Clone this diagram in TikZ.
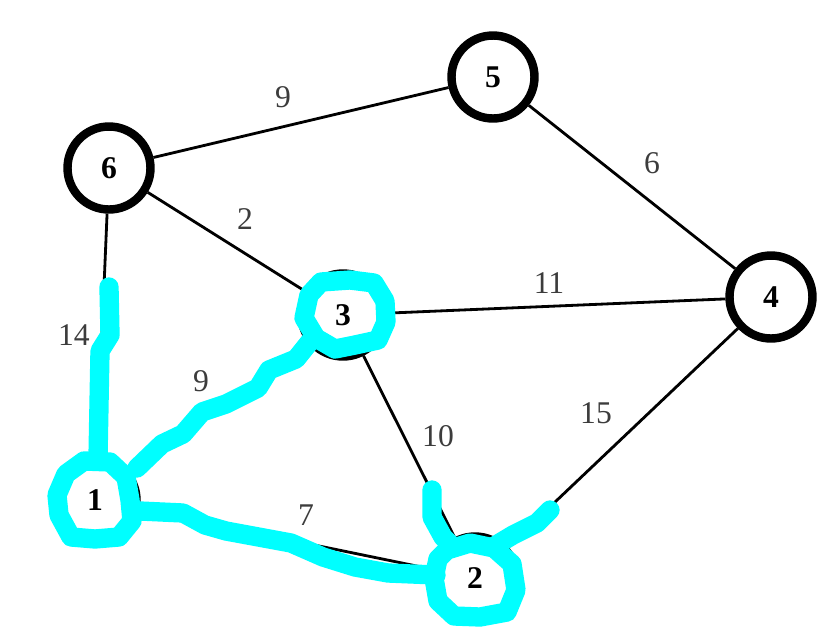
\documentclass[tikz,border=0pt]{standalone}
\usepackage{fontspec}
\setmainfont{Liberation Serif}
\definecolor{hilite}{RGB}{0,255,255}
\definecolor{wlabel}{RGB}{60,60,60}
\tikzset{
  vertex/.style={circle, draw=black, line width=4.8pt, minimum size=1.66cm, inner sep=0pt,
    font=\fontsize{18}{18}\selectfont\bfseries},
  edge/.style={line width=1.6pt},
  weight/.style={text=wlabel, font=\fontsize{18}{18}\selectfont},
  marker/.style={hilite, line width=11pt, line cap=round, line join=round},
}

\begin{document}
\begin{tikzpicture}[x=0.02cm, y=-0.02cm]
        \useasboundingbox (0,0) rectangle (840,630);

        % Coordinates
        \coordinate (P1) at (95,500);
        \coordinate (P2) at (475,578);
        \coordinate (P3) at (343,315);
        \coordinate (P4) at (771,297);
        \coordinate (P5) at (493,77);
        \coordinate (P6) at (109,168);

        % Nodes
        \node[vertex] (v1) at (P1) {1};
        \node[vertex] (v2) at (P2) {2};
        \node[vertex] (v3) at (P3) {3};
        \node[vertex] (v4) at (P4) {4};
        \node[vertex] (v5) at (P5) {5};
        \node[vertex] (v6) at (P6) {6};

        % Edges
        \draw[edge] (v6) -- (v5);
        \draw[edge] (v5) -- (v4);
        \draw[edge] (v6) -- (v3);
        \draw[edge] (v3) -- (v4);
        \draw[edge] (v6) -- (v1);
        \draw[edge] (v1) -- (v3);
        \draw[edge] (v3) -- (v2);
        \draw[edge] (v1) -- (v2);
        \draw[edge] (v4) -- (v2);

        % Weights
        \node[weight] (w65) at (283,97) {9};
        \node[weight] (w54) at (652,163) {6};
        \node[weight] (w63) at (245,219) {2};
        \node[weight] (w34) at (549,283) {11};
        \node[weight] (w61) at (74,335) {14};
        \node[weight] (w13) at (201,381) {9};
        \node[weight] (w32) at (438,436) {10};
        \node[weight] (w42) at (596,413) {15};
        \node[weight] (w12) at (306,515) {7};

        % Highlights
        \draw[marker] (109,287) -- (110,335) -- (100,351) -- (98,458);
        \draw[marker] (137,468) -- (162,444) -- (183,434) -- (202,412) -- (226,404)
          -- (258,388) -- (269,370) -- (296,359) -- (312,339);
        \draw[marker] (140,511) -- (183,513) -- (205,525) -- (226,531) -- (291,543)
          -- (323,557) -- (355,567) -- (388,573) -- (436,575);
        \draw[marker] (432,490) -- (432,517) -- (443,537) -- (453,547);
        \draw[marker] (550,510) -- (537,523) -- (513,535) -- (493,547);
        \draw[marker] (309,295) -- (321,282) -- (350,280) -- (374,283) -- (385,301)
          -- (386,322) -- (378,340) -- (355,345) -- (335,349) -- (316,338) -- (304,318) -- cycle;
        \draw[marker] (66,474) -- (84,461) -- (110,462) -- (126,477) -- (130,500)
          -- (132,521) -- (119,537) -- (95,539) -- (71,537) -- (59,515) -- (57,495) -- cycle;
        \draw[marker] (447,550) -- (470,543) -- (494,548) -- (512,564) -- (516,590)
          -- (507,612) -- (480,617) -- (454,616) -- (438,601) -- (434,578) -- (438,559) -- cycle;
    \end{tikzpicture}
\end{document}
